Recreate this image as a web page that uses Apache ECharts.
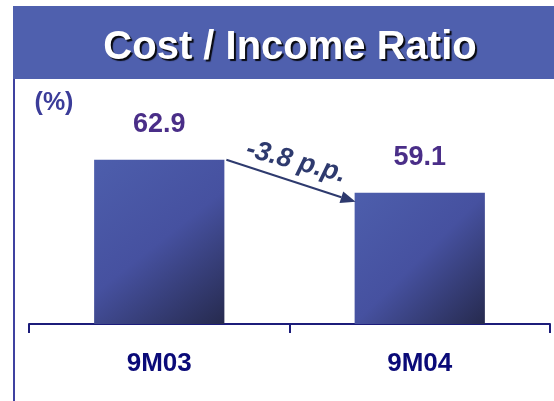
<!DOCTYPE html>
<html>
<head>
<meta charset="utf-8">
<script src="https://cdn.jsdelivr.net/npm/echarts@6/dist/echarts.min.js"></script>
<style>
html,body{margin:0;padding:0;background:#fff;}
#chart{width:554px;height:401px;}
</style>
</head>
<body>
<div id="chart"></div>
<script>
const titleText = 'Cost / Income Ratio';
const unitText = '(%)';
const categories = ['9M03', '9M04'];
const values = [62.9, 59.1];
const changeText = '-3.8 p.p.';
const arrowEndValue = 58.05;

const FONT = '"Liberation Sans", Arial, sans-serif';
const chart = echarts.init(document.getElementById('chart'), null, {renderer: 'canvas'});

const barGradient = new echarts.graphic.LinearGradient(0, 0, 1, 1, [
  {offset: 0, color: '#4D5EAC'},
  {offset: 0.5, color: '#4651A0'},
  {offset: 1, color: '#262A4E'}
]);

chart.setOption({
  animation: false,
  grid: {left: 29, right: 4, top: 98, bottom: 77, containLabel: false},
  xAxis: {
    type: 'category',
    data: categories,
    boundaryGap: true,
    axisLine: {show: true, lineStyle: {color: '#1C1C7A', width: 2}},
    axisTick: {show: true, length: 9, lineStyle: {color: '#1C1C7A', width: 2}},
    axisLabel: {margin: 27, color: '#0A0A78', fontSize: 26, fontWeight: 'bold', fontFamily: FONT}
  },
  yAxis: {
    type: 'value', min: 44, max: 70, show: false,
    splitLine: {show: false}
  },
  series: [{
    type: 'bar',
    data: values,
    barWidth: '50%',
    itemStyle: {color: barGradient},
    label: {
      show: true, position: 'top', distance: 22,
      color: '#4A2E88', fontSize: 27, fontWeight: 'bold', fontFamily: FONT,
      formatter: p => p.value.toFixed(1)
    }
  }]
});

function addOverlay() {
  const c0 = chart.convertToPixel({seriesIndex: 0}, [0, values[0]]);
  const c1 = chart.convertToPixel({seriesIndex: 0}, [1, arrowEndValue]);
  const band = c1[0] - c0[0];
  const half = band * 0.5 / 2;
  const x1 = c0[0] + half + 2, y1 = c0[1];
  const x2 = c1[0] - half + 1, y2 = c1[1];
  const ang = Math.atan2(y2 - y1, x2 - x1);
  const L = 15, W = 6;
  const bx = x2 - L * Math.cos(ang), by = y2 - L * Math.sin(ang);
  const px = -Math.sin(ang), py = Math.cos(ang);
  const arrowColor = '#2E3A6E';
  chart.setOption({
    graphic: [
      {type: 'rect', shape: {x: 13, y: 6, width: 541, height: 73}, style: {fill: '#4F60AE'}, z: 1},
      {type: 'text', x: 290, y: 48, style: {
        text: titleText, fill: '#ffffff', font: 'bold 40px ' + FONT,
        align: 'center', verticalAlign: 'middle',
        textShadowColor: 'rgba(0,0,0,0.9)', textShadowOffsetX: 2, textShadowOffsetY: 2, textShadowBlur: 1
      }, z: 2},
      {type: 'line', shape: {x1: 14, y1: 79, x2: 14, y2: 401}, style: {stroke: '#3F41A0', lineWidth: 2}, z: 1},
      {type: 'text', x: 54, y: 103, style: {
        text: unitText, fill: '#3B3C99', font: 'bold 25px ' + FONT, align: 'center', verticalAlign: 'middle'
      }, z: 2},
      {type: 'line', shape: {x1: x1, y1: y1, x2: bx, y2: by}, style: {stroke: arrowColor, lineWidth: 2}, z: 3},
      {type: 'polygon', shape: {points: [[x2, y2], [bx + px * W, by + py * W], [bx - px * W, by - py * W]]},
        style: {fill: arrowColor}, z: 3},
      {type: 'text', x: (x1 + x2) / 2 + 5, y: (y1 + y2) / 2 - 19, rotation: -0.26, style: {
        text: changeText, fill: arrowColor, font: 'italic bold 27px ' + FONT, align: 'center', verticalAlign: 'middle'
      }, z: 3}
    ]
  });
}
addOverlay();
</script>
</body>
</html>
